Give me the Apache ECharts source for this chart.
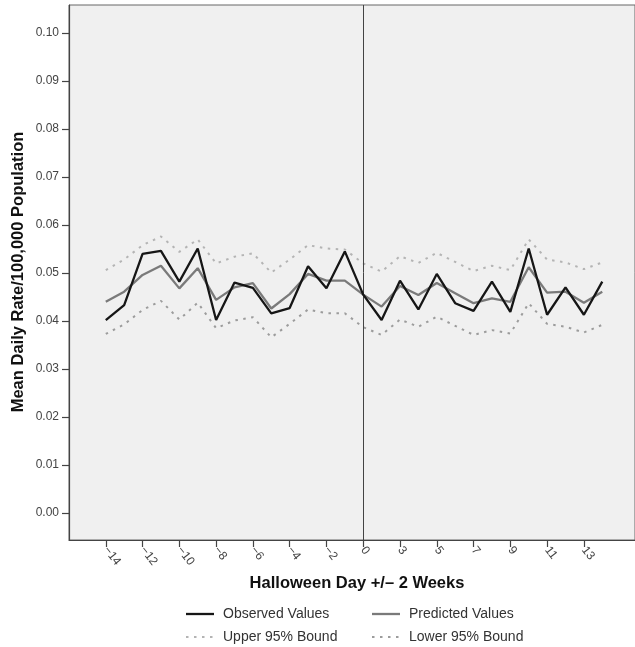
<!DOCTYPE html>
<html>
<head>
<meta charset="utf-8">
<script src="https://cdn.jsdelivr.net/npm/echarts@6/dist/echarts.min.js"></script>
<style>
html,body{margin:0;padding:0;background:#fff;}
#chart{width:635px;height:647px;}
</style>
</head>
<body>
<div id="chart"></div>
<script>
// Days relative to Halloween (day 1 is absent in the source)
const days = [-14,-13,-12,-11,-10,-9,-8,-7,-6,-5,-4,-3,-2,-1,0,2,3,4,5,6,7,8,9,10,11,12,13,14];
const observed = [0.0402,0.0433,0.0540,0.0546,0.0482,0.0551,0.0402,0.0480,0.0469,0.0416,0.0427,0.0514,0.0468,0.0545,
                  0.0455,0.0402,0.0484,0.0424,0.0498,0.0437,0.0421,0.0482,0.0419,0.0551,0.0413,0.0470,0.0413,0.0482];
const predicted = [0.0440,0.0461,0.0496,0.0515,0.0468,0.0510,0.0444,0.0470,0.0479,0.0426,0.0456,0.0498,0.0484,0.0484,
                   0.0455,0.0430,0.0473,0.0454,0.0479,0.0458,0.0437,0.0447,0.0440,0.0512,0.0459,0.0461,0.0438,0.0461];
const upper95 = [0.0506,0.0528,0.0558,0.0576,0.0544,0.0570,0.0520,0.0534,0.0541,0.0501,0.0528,0.0558,0.0551,0.0549,
                 0.0520,0.0503,0.0535,0.0521,0.0542,0.0523,0.0504,0.0515,0.0506,0.0570,0.0528,0.0522,0.0508,0.0522];
const lower95 = [0.0373,0.0393,0.0423,0.0442,0.0403,0.0438,0.0385,0.0401,0.0408,0.0366,0.0394,0.0424,0.0416,0.0416,
                 0.0387,0.0371,0.0403,0.0388,0.0409,0.0390,0.0371,0.0381,0.0374,0.0437,0.0394,0.0388,0.0376,0.0392];
const yTicks = [0,0.01,0.02,0.03,0.04,0.05,0.06,0.07,0.08,0.09,0.10];
const xTickIdx = [0,2,4,6,8,10,12,14,16,18,20,22,24,26];
const referenceDay = 0;
const seriesNames = ['Observed Values','Predicted Values','Upper 95% Bound','Lower 95% Bound'];

const FONT = '"Liberation Sans", Arial, sans-serif';
const pts = arr => arr.map((v,i)=>[i,v]);
const dayLabel = d => d < 0 ? '\u2212' + Math.abs(d) : String(d);

const styles = {
  'Observed Values': {color:'#161616', width:2.3, type:'solid'},
  'Predicted Values': {color:'#7a7a7a', width:2.3, type:'solid'},
  'Upper 95% Bound': {color:'#b4b4b4', width:2, type:[2.5,5.5]},
  'Lower 95% Bound': {color:'#9c9c9c', width:2, type:[2.5,5.5]}
};

// legend drawn as graphic items (2 columns x 2 rows)
const legendPos = {
  'Observed Values': [186, 614], 'Predicted Values': [372, 614],
  'Upper 95% Bound': [186, 637], 'Lower 95% Bound': [372, 637]
};
const legendGraphics = [];
seriesNames.forEach(n => {
  const [x, y] = legendPos[n];
  const s = styles[n];
  legendGraphics.push({type:'line', shape:{x1:x, y1:y, x2:x+28, y2:y},
    style:{stroke:s.color, lineWidth:s.width, lineDash: s.type === 'solid' ? null : s.type}});
  legendGraphics.push({type:'text', x:x+37, y:y,
    style:{text:n, verticalAlign:'middle', align:'left', font:'14px "Liberation Sans", Arial, sans-serif', fill:'#333'}});
});

const chart = echarts.init(document.getElementById('chart'));
chart.setOption({
  animation:false,
  backgroundColor:'#ffffff',
  grid:{left:69, top:5, right:-2, bottom:107, show:true, backgroundColor:'#f0f0f0', borderColor:'#666', borderWidth:1},
  xAxis:{
    type:'value', min:-2, max:28.78,
    axisLine:{show:true, onZero:false, lineStyle:{color:'#444', width:1.2}},
    axisTick:{show:true, length:7, customValues:xTickIdx, lineStyle:{color:'#444', width:1.2}},
    axisLabel:{customValues:xTickIdx, rotate:-52, margin:8, color:'#444', fontFamily:FONT, fontSize:12,
      formatter:v=>dayLabel(days[Math.round(v)])},
    splitLine:{show:false}
  },
  yAxis:{
    type:'value', min:-0.005625, max:0.10583,
    axisLine:{show:true, onZero:false, lineStyle:{color:'#444', width:1.2}},
    axisTick:{show:true, length:7, customValues:yTicks, lineStyle:{color:'#444', width:1.2}},
    axisLabel:{customValues:yTicks, margin:10, color:'#444', fontFamily:FONT, fontSize:12,
      formatter:v=>v.toFixed(2)},
    splitLine:{show:false}
  },
  graphic:[
    {type:'text', x:357, y:583, style:{text:'Halloween Day +/\u2013 2 Weeks', align:'center', verticalAlign:'middle',
      font:'bold 16.5px "Liberation Sans", Arial, sans-serif', fill:'#111'}},
    {type:'text', x:18, y:272, rotation:Math.PI/2, style:{text:'Mean Daily Rate/100,000 Population', align:'center', verticalAlign:'middle',
      font:'bold 16.5px "Liberation Sans", Arial, sans-serif', fill:'#111'}}
  ].concat(legendGraphics),
  series:[
    {name:seriesNames[0], type:'line', data:pts(observed), symbol:'none', z:5,
     lineStyle:styles[seriesNames[0]],
     markLine:{silent:true, symbol:'none', label:{show:false}, lineStyle:{color:'#444', width:1, type:'solid'},
       data:[{xAxis:days.indexOf(referenceDay)}]}},
    {name:seriesNames[1], type:'line', data:pts(predicted), symbol:'none', z:4, lineStyle:styles[seriesNames[1]]},
    {name:seriesNames[2], type:'line', data:pts(upper95), symbol:'none', z:3, lineStyle:styles[seriesNames[2]]},
    {name:seriesNames[3], type:'line', data:pts(lower95), symbol:'none', z:3, lineStyle:styles[seriesNames[3]]}
  ]
});
</script>
</body>
</html>
